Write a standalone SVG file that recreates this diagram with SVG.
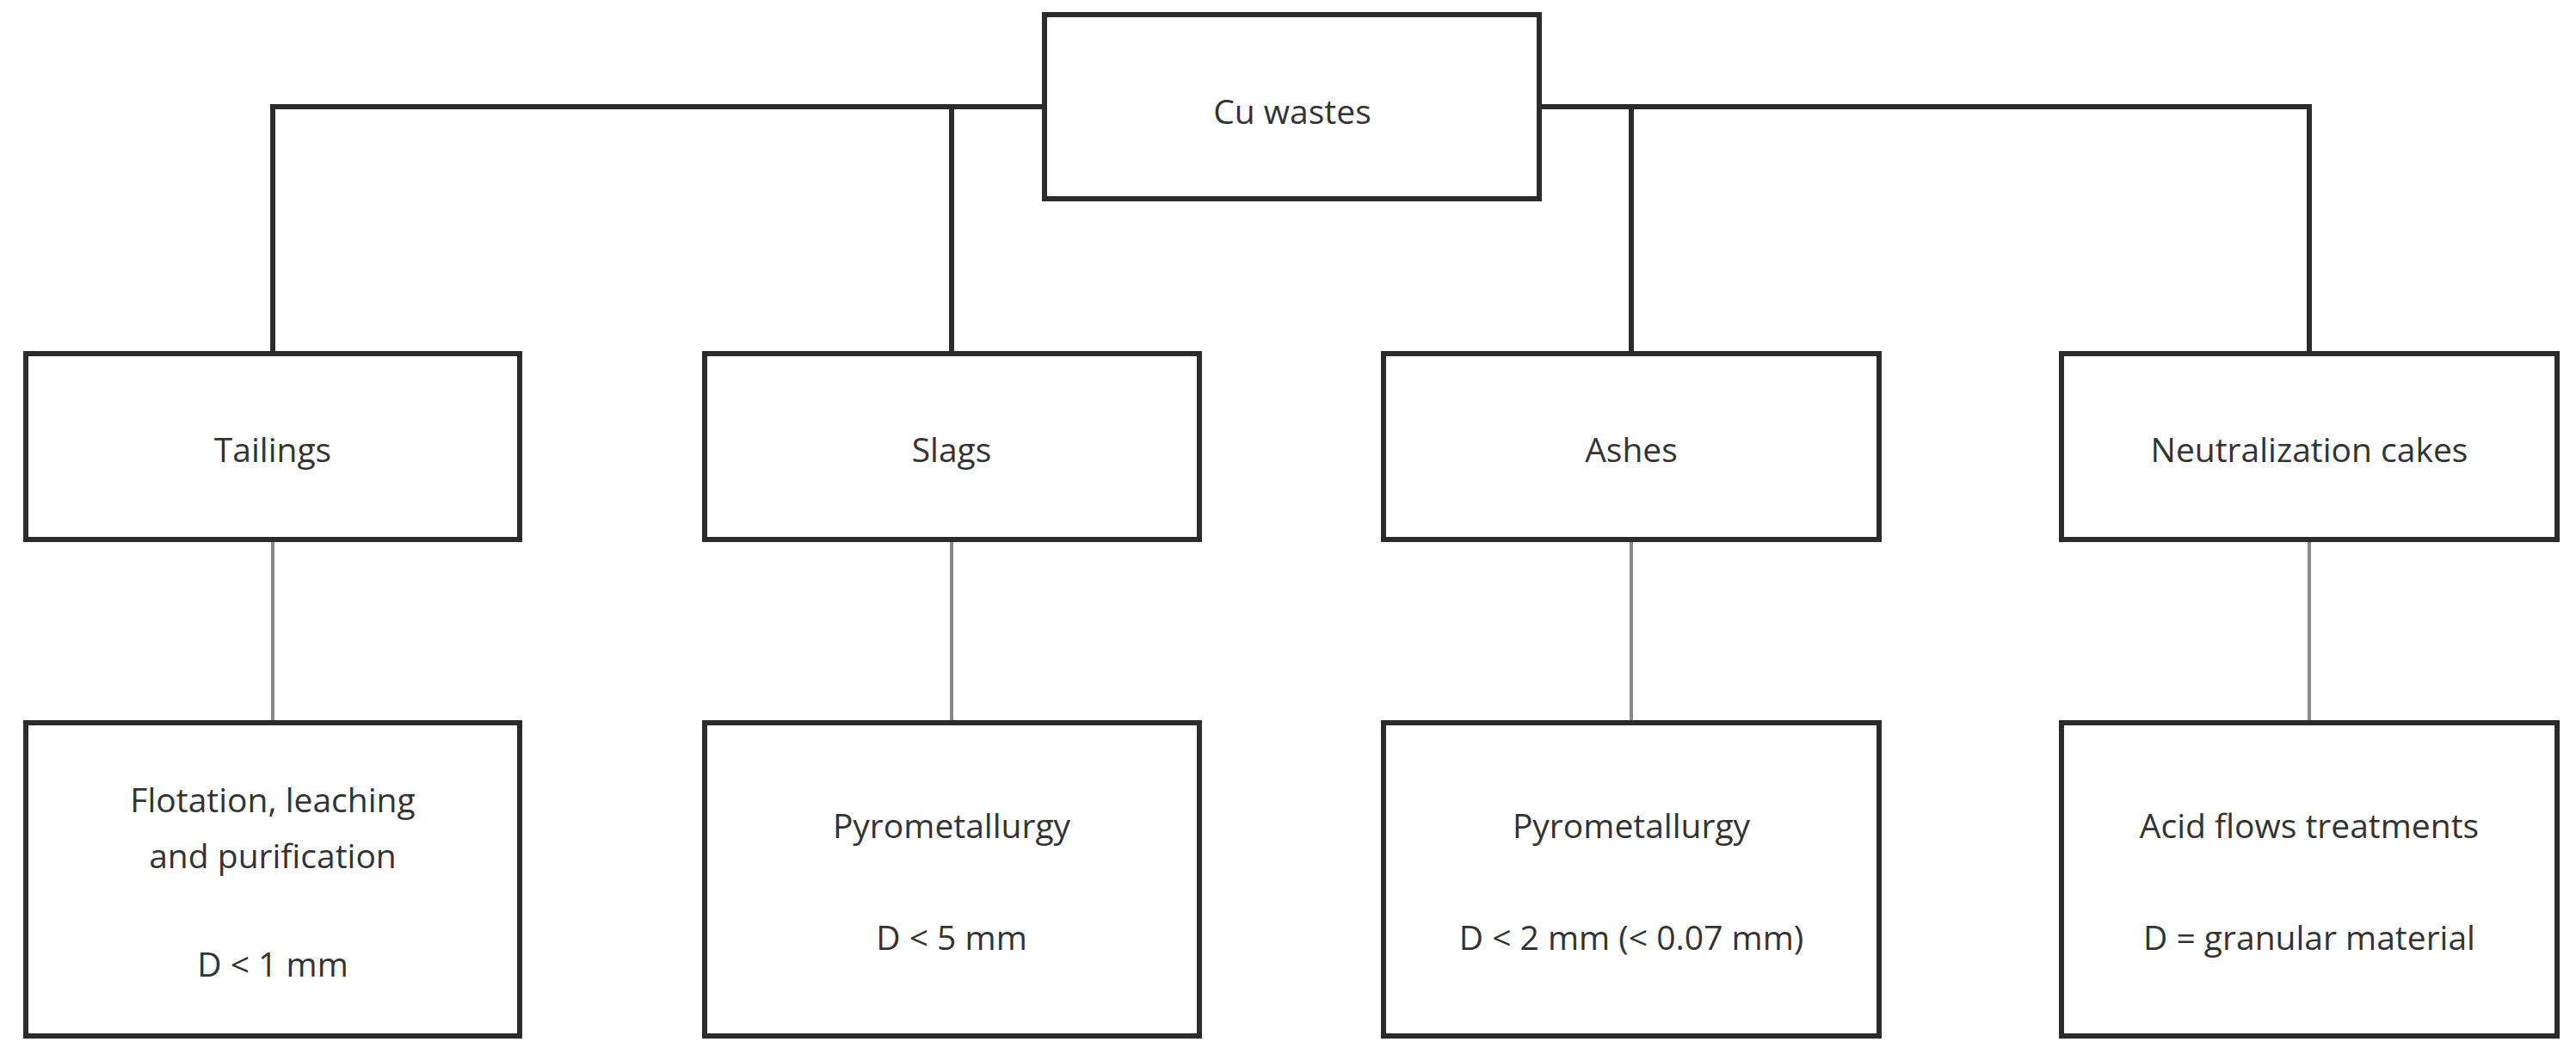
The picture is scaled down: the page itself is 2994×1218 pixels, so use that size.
<svg xmlns="http://www.w3.org/2000/svg" width="2994" height="1218" viewBox="0 0 2994 1218">
<style>
.b{fill:#fff;stroke:#2b2b2b;stroke-width:6}
.t{font-family:"Open Sans","Noto Sans",sans-serif;font-size:39px;fill:#333;text-anchor:middle;dominant-baseline:central}
.c{fill:none;stroke:#2b2b2b;stroke-width:6}
.g{fill:none;stroke:#888;stroke-width:4}
</style>
<rect width="2994" height="1218" fill="#fff"/>
<g id="connectors">
<path class="c" d="M317 411V124H2684V411M1106 124V411M1896 124V411"/>
<path class="g" d="M317 627V840M1106 627V840M1896 627V840M2684 627V840"/>
</g>
<g id="cu"><rect class="b" x="1214" y="17" width="575" height="214"/><text class="t" x="1502" y="128">Cu wastes</text></g>
<g id="tailings"><rect class="b" x="30" y="411" width="574" height="216"/><text class="t" x="317" y="521">Tailings</text></g>
<g id="slags"><rect class="b" x="819" y="411" width="575" height="216"/><text class="t" x="1106" y="521">Slags</text></g>
<g id="ashes"><rect class="b" x="1608" y="411" width="576" height="216"/><text class="t" x="1896" y="521">Ashes</text></g>
<g id="cakes"><rect class="b" x="2396" y="411" width="576" height="216"/><text class="t" x="2684" y="521">Neutralization cakes</text></g>
<g id="tail2"><rect class="b" x="30" y="840" width="574" height="364"/><text class="t" x="317" y="928">Flotation, leaching</text><text class="t" x="317" y="993">and purification</text><text class="t" x="317" y="1119">D &lt; 1 mm</text></g>
<g id="slag2"><rect class="b" x="819" y="840" width="575" height="364"/><text class="t" x="1106" y="958">Pyrometallurgy</text><text class="t" x="1106" y="1088">D &lt; 5 mm</text></g>
<g id="ash2"><rect class="b" x="1608" y="840" width="576" height="364"/><text class="t" x="1896" y="958">Pyrometallurgy</text><text class="t" x="1896" y="1088">D &lt; 2 mm (&lt; 0.07 mm)</text></g>
<g id="cake2"><rect class="b" x="2396" y="840" width="576" height="364"/><text class="t" x="2684" y="958">Acid flows treatments</text><text class="t" x="2684" y="1088">D = granular material</text></g>
</svg>
